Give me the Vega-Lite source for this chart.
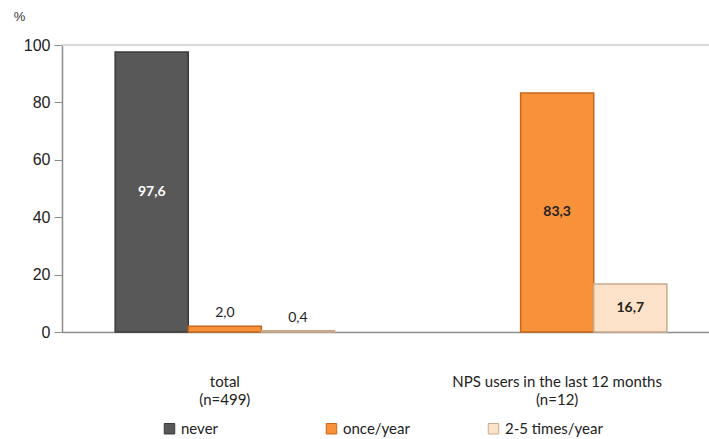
{
  "$schema": "https://vega.github.io/schema/vega-lite/v6.json",
  "width": 658,
  "height": 287,
  "padding": {"left": 13, "top": 10, "right": 5, "bottom": 5},
  "background": "white",
  "config": {"view": {"stroke": null}},
  "data": {"values": [
    {"group": "total (n=499)", "freq": "never", "value": 97.6},
    {"group": "total (n=499)", "freq": "once/year", "value": 2.0},
    {"group": "total (n=499)", "freq": "2-5 times/year", "value": 0.4},
    {"group": "NPS users in the last 12 months (n=12)", "freq": "once/year", "value": 83.3},
    {"group": "NPS users in the last 12 months (n=12)", "freq": "2-5 times/year", "value": 16.7}
  ]},
  "transform": [
    {"calculate": "replace(format(datum.value, '.1f'), '.', ',')", "as": "label"},
    {"calculate": "datum.value / 2", "as": "mid"}
  ],
  "encoding": {
    "x": {"field": "group", "type": "nominal", "sort": ["total (n=499)", "NPS users in the last 12 months (n=12)"],
      "scale": {"paddingInner": 0.34, "paddingOuter": 0.16},
      "axis": {"title": null, "labelAngle": 0, "ticks": false, "domainColor": "#8c8c8c", "domainWidth": 1.5,
        "labelExpr": "datum.value == 'total (n=499)' ? ['total', '(n=499)'] : ['NPS users in the last 12 months', '(n=12)']",
        "labelFont": "Lato", "labelFontSize": 15, "labelColor": "#222", "labelPadding": 42, "labelLineHeight": 18, "labelLimit": 400}},
    "xOffset": {"field": "freq", "type": "nominal", "sort": ["never", "once/year", "2-5 times/year"],
      "scale": {"domain": ["never", "once/year", "2-5 times/year"], "paddingInner": 0, "paddingOuter": 0}}
  },
  "layer": [
    {
      "mark": {"type": "rule", "color": "#d9d9d9", "strokeWidth": 1.5},
      "encoding": {"x": null, "xOffset": null, "y": {"datum": 100, "type": "quantitative"}}
    },
    {
      "mark": {"type": "bar", "strokeWidth": 1.5},
      "encoding": {
        "y": {"field": "value", "type": "quantitative",
          "scale": {"domain": [0, 100]},
          "axis": {"values": [0, 20, 40, 60, 80, 100], "grid": false, "title": "%", "titleAngle": 0,
            "titleX": -43, "titleY": -22, "titleAlign": "center", "titleFont": "Liberation Sans", "titleFontWeight": "normal",
            "titleFontSize": 13, "titleColor": "#333",
            "labelFont": "Liberation Sans", "labelFontSize": 16, "labelColor": "#222", "labelPadding": 4,
            "tickSize": 8, "tickColor": "#8c8c8c", "domainColor": "#8c8c8c", "domainWidth": 1.5}},
        "color": {"field": "freq", "type": "nominal",
          "scale": {"domain": ["never", "once/year", "2-5 times/year"], "range": ["#585858", "#F7913A", "#FCE2C8"]},
          "legend": {"title": null, "orient": "none", "legendX": 100, "legendY": 376, "direction": "horizontal", "columns": 3, "gridAlign": "all",
            "columnPadding": 45, "symbolType": "square", "symbolSize": 110, "symbolStrokeWidth": 1,
            "labelFont": "Lato", "labelFontSize": 15, "labelColor": "#222"}},
        "stroke": {"field": "freq", "type": "nominal",
          "scale": {"domain": ["never", "once/year", "2-5 times/year"], "range": ["#3a3a3a", "#c8661a", "#c9a98a"]},
          "legend": null}
      }
    },
    {
      "transform": [{"filter": "datum.value > 10"}],
      "mark": {"type": "text", "font": "Lato", "fontWeight": "bold", "fontSize": 14, "baseline": "middle"},
      "encoding": {
        "y": {"field": "mid", "type": "quantitative"},
        "text": {"field": "label"},
        "color": {"condition": {"test": "datum.freq == 'never'", "value": "white"}, "value": "#222"}
      }
    },
    {
      "transform": [{"filter": "datum.value < 10"}],
      "mark": {"type": "text", "font": "Lato", "fontSize": 14, "baseline": "bottom", "dy": -6, "color": "#222"},
      "encoding": {
        "y": {"field": "value", "type": "quantitative"},
        "text": {"field": "label"}
      }
    }
  ]
}
